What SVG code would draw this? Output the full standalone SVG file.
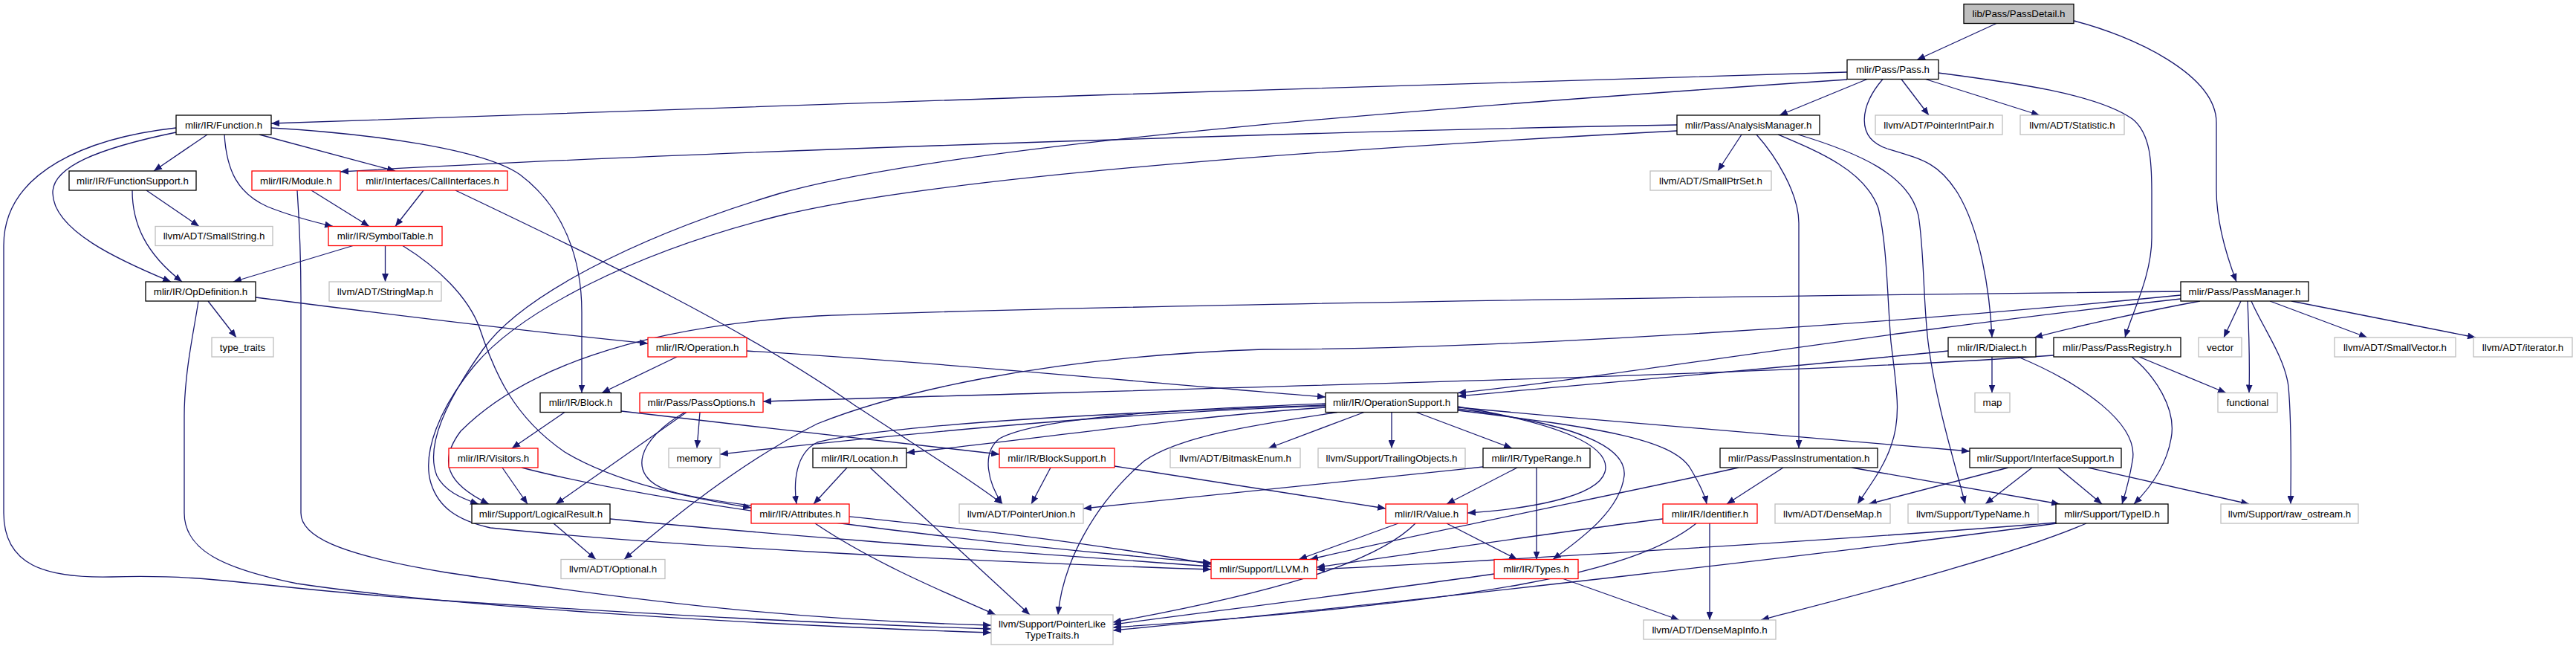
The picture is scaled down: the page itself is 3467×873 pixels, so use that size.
<svg xmlns="http://www.w3.org/2000/svg" width="3467" height="873" viewBox="0 0 3467 873">
<style>
.n rect{fill:#fff;stroke:#000;stroke-width:1.3}
.n.r rect{stroke:#ff0000}
.n.g rect{stroke:#bfbfbf}
.n.root rect{fill:#bfbfbf}
.n text{font-family:"Liberation Sans",Arial,sans-serif;font-size:13.3px;fill:#000;text-anchor:middle}
#edges path{fill:none;stroke:#191970;stroke-width:1.3;marker-end:url(#ah)}
</style>
<defs>
<marker id="ah" markerUnits="userSpaceOnUse" viewBox="0 0 11 9" refX="11" refY="4.5" markerWidth="11" markerHeight="9" orient="auto">
<path d="M0,0L11,4.5L0,9z" fill="#191970"/>
</marker>
</defs>
<rect width="3467" height="873" fill="#fff"/>
<g id="edges">
<path d="M2687,31.5 L2580,80.5"/>
<path d="M2791,28 C2870,48 2983,100 2983,165 L2983,255 C2983,300 2997,345 3010,379"/>
<path d="M2486,97 C1900,110 900,150 365,166"/>
<path d="M2486,107 C2000,140 1300,190 1050,260 C850,320 700,400 650,470 C600,540 572,600 588,640 C598,660 620,670 644,678"/>
<path d="M2513,106.5 L2395,155"/>
<path d="M2534,106.5 C2505,140 2495,185 2540,200 C2590,215 2610,220 2635,260 C2665,310 2678,390 2681,454"/>
<path d="M2559,106.5 L2596,155"/>
<path d="M2590,106 L2745,155"/>
<path d="M2609,98 C2700,110 2820,125 2870,160 C2895,180 2896,220 2896,260 L2896,320 C2896,370 2870,420 2860,454"/>
<path d="M2344,181 L2312,230"/>
<path d="M2364,181 C2390,210 2421,260 2421,300 L2421,603"/>
<path d="M2393,181 C2450,205 2510,230 2528,280 C2540,330 2540,400 2545,460 C2552,520 2560,560 2545,600 C2535,630 2515,655 2500,678"/>
<path d="M2420,181 C2500,205 2570,235 2582,290 C2590,340 2588,400 2595,460 C2605,540 2630,620 2645,678"/>
<path d="M2257,168 C1800,176 900,205 458,231"/>
<path d="M2257,176 C1900,195 1300,230 1050,290 C850,340 700,420 640,490 C590,550 568,610 580,650 C590,682 615,700 660,710 C900,735 1300,755 1630,766"/>
<path d="M237,172 C120,185 5,230 5,330 L5,690 C5,760 60,778 150,776 C300,772 330,790 600,808 C900,828 1100,838 1334,846"/>
<path d="M237,178 C130,200 70,225 71,260 C72,310 160,350 230,379"/>
<path d="M279,181 L207,230"/>
<path d="M302,181 C305,230 320,260 360,278 C390,290 420,298 448,304.5"/>
<path d="M349,181 L532,230"/>
<path d="M365,172 C500,180 650,200 700,235 C760,280 783,350 783,420 L783,528.5"/>
<path d="M178,256 C178,300 195,340 245,379"/>
<path d="M197,256 L268,304.5"/>
<path d="M419,256 L497,304.5"/>
<path d="M400,256 C403,300 405,350 405,400 L405,690 C405,720 450,745 600,770 C900,815 1100,835 1334,841"/>
<path d="M570,256 L532,304.5"/>
<path d="M613,256 C800,345 1000,440 1150,545 C1250,610 1320,655 1349,678"/>
<path d="M475,330.5 L314,379"/>
<path d="M518.5,330.5 L518.5,379"/>
<path d="M542,330.5 C590,360 630,400 645,440 C665,500 690,560 760,608 C830,650 930,670 1011,683"/>
<path d="M280,405 L318,454"/>
<path d="M344,400 C500,420 700,445 872,462"/>
<path d="M267,405 C262,440 248,500 248,560 L248,690 C248,740 300,765 400,785 C600,815 1000,840 1334,851"/>
<path d="M911,480 L810,528.5"/>
<path d="M1005,472 C1300,490 1600,520 1784,534"/>
<path d="M760,554.5 L689,603"/>
<path d="M836,553 C1000,572 1200,595 1345,611"/>
<path d="M924,554.5 L748,678"/>
<path d="M942,554.5 L938,603"/>
<path d="M921,555 C860,590 840,640 900,660 C1000,690 1300,700 1630,759"/>
<path d="M676,629 L710,678"/>
<path d="M702,629 C900,680 1300,730 1630,757"/>
<path d="M745,704 L802,752.5"/>
<path d="M821,698 C1100,725 1400,745 1630,762"/>
<path d="M1097,704 C1180,760 1280,800 1340,827"/>
<path d="M1784,546 C1500,555 1200,585 969,611"/>
<path d="M1784,548 C1600,560 1400,590 1220,609"/>
<path d="M1784,545 C1500,555 1200,570 1100,595 C1070,610 1068,650 1072,678"/>
<path d="M1784,543 C1600,550 1400,560 1345,590 C1320,610 1330,650 1349,678"/>
<path d="M1800,554.5 C1700,570 1590,585 1540,620 C1470,680 1430,760 1424,827"/>
<path d="M1836,554.5 L1707,603"/>
<path d="M1873,554.5 L1873,603"/>
<path d="M1906,554.5 L2035,603"/>
<path d="M1962,547 C2100,570 2170,600 2160,635 C2150,670 2050,685 1975,690"/>
<path d="M1962,550 C2120,570 2190,600 2186,640 C2180,690 2120,730 2090,752.5"/>
<path d="M1962,552 C2150,575 2250,590 2275,630 C2290,655 2295,668 2297,678"/>
<path d="M1962,548 C2200,570 2450,590 2651,607"/>
<path d="M2042,629 L1947,678"/>
<path d="M2068,629 L2068,752.5"/>
<path d="M1996,628 C1800,650 1600,670 1458,684"/>
<path d="M1882,704 L1748,752.5"/>
<path d="M1947,704 L2042,752.5"/>
<path d="M1905,704 C1850,760 1700,800 1498,837"/>
<path d="M1414,629 L1388,678"/>
<path d="M1500,627 C1650,650 1780,670 1865,684"/>
<path d="M1140,629 L1095,678"/>
<path d="M1171,629 L1386,827"/>
<path d="M2238,698 C2100,715 1900,745 1772,763"/>
<path d="M2301,704 L2301,834"/>
<path d="M2283,704 C2200,770 2000,810 1498,844"/>
<path d="M2104,778.5 L2260,834"/>
<path d="M2011,772 C1850,795 1650,820 1498,840"/>
<path d="M2767,703 C2500,725 2000,755 1772,766"/>
<path d="M2768,704 C2500,740 1900,810 1498,848"/>
<path d="M2808,704 C2700,750 2500,800 2370,834"/>
<path d="M2400,629 L2324,678"/>
<path d="M2492,629 L2772,678"/>
<path d="M2340,629 C2200,660 1900,720 1763,752.5"/>
<path d="M2703,629 L2515,678"/>
<path d="M2735,629 L2672,678"/>
<path d="M2770,629 L2829,678"/>
<path d="M2810,629 C2880,645 2950,660 3027,678"/>
<path d="M2681,480 L2681,528.5"/>
<path d="M2716,480 C2800,515 2880,570 2870,620 C2865,650 2860,665 2856,678"/>
<path d="M2622,472 C2400,495 2150,515 1962,533"/>
<path d="M2764,478 C2400,505 1500,525 1027,540"/>
<path d="M2869,480 C2900,505 2930,550 2922,590 C2915,630 2890,660 2872,678"/>
<path d="M2879,480 L2996,528.5"/>
<path d="M2935,392 C2400,398 1500,410 1100,425 C850,440 700,500 620,580 C590,620 600,650 658,678"/>
<path d="M2935,397 C2500,440 2000,470 1700,470 C1400,480 1200,530 1100,570 C1000,620 900,700 840,752.5"/>
<path d="M2935,402 C2500,450 2150,510 1962,528.5"/>
<path d="M2961,405 C2880,420 2790,440 2738,454"/>
<path d="M3016,405 L2993,454"/>
<path d="M3025,405 C3027,450 3028,490 3027,528.5"/>
<path d="M3030,405 C3045,440 3075,480 3080,520 C3085,580 3083,640 3083,678"/>
<path d="M3055,405 L3186,454"/>
<path d="M3084,405 L3332,454"/>
</g>
<g id="passdetail" class="n root"><rect x="2643" y="5.5" width="148" height="26"/><text x="2717" y="23.3">lib/Pass/PassDetail.h</text></g>
<g id="pass" class="n"><rect x="2486" y="80.5" width="123" height="26"/><text x="2547.5" y="98.3">mlir/Pass/Pass.h</text></g>
<g id="function" class="n"><rect x="237" y="155" width="128" height="26"/><text x="301" y="172.8">mlir/IR/Function.h</text></g>
<g id="analysismanager" class="n"><rect x="2257" y="155" width="192" height="26"/><text x="2353" y="172.8">mlir/Pass/AnalysisManager.h</text></g>
<g id="pointerintpair" class="n g"><rect x="2524" y="155" width="171" height="26"/><text x="2609.5" y="172.8">llvm/ADT/PointerIntPair.h</text></g>
<g id="statistic" class="n g"><rect x="2719" y="155" width="140" height="26"/><text x="2789" y="172.8">llvm/ADT/Statistic.h</text></g>
<g id="functionsupport" class="n"><rect x="93" y="230" width="171" height="26"/><text x="178.5" y="247.8">mlir/IR/FunctionSupport.h</text></g>
<g id="module" class="n r"><rect x="339" y="230" width="119" height="26"/><text x="398.5" y="247.8">mlir/IR/Module.h</text></g>
<g id="callinterfaces" class="n r"><rect x="481" y="230" width="202" height="26"/><text x="582" y="247.8">mlir/Interfaces/CallInterfaces.h</text></g>
<g id="smallptrset" class="n g"><rect x="2221" y="230" width="163" height="26"/><text x="2302.5" y="247.8">llvm/ADT/SmallPtrSet.h</text></g>
<g id="smallstring" class="n g"><rect x="209" y="304.5" width="158" height="26"/><text x="288" y="322.3">llvm/ADT/SmallString.h</text></g>
<g id="symboltable" class="n r"><rect x="442" y="304.5" width="153" height="26"/><text x="518.5" y="322.3">mlir/IR/SymbolTable.h</text></g>
<g id="opdefinition" class="n"><rect x="196" y="379" width="148" height="26"/><text x="270" y="396.8">mlir/IR/OpDefinition.h</text></g>
<g id="stringmap" class="n g"><rect x="443" y="379" width="151" height="26"/><text x="518.5" y="396.8">llvm/ADT/StringMap.h</text></g>
<g id="passmanager" class="n"><rect x="2935" y="379" width="172" height="26"/><text x="3021" y="396.8">mlir/Pass/PassManager.h</text></g>
<g id="type_traits" class="n g"><rect x="285" y="454" width="83" height="26"/><text x="326.5" y="471.8">type_traits</text></g>
<g id="operation" class="n r"><rect x="872" y="454" width="133" height="26"/><text x="938.5" y="471.8">mlir/IR/Operation.h</text></g>
<g id="dialect" class="n"><rect x="2622" y="454" width="118" height="26"/><text x="2681" y="471.8">mlir/IR/Dialect.h</text></g>
<g id="passregistry" class="n"><rect x="2764" y="454" width="171" height="26"/><text x="2849.5" y="471.8">mlir/Pass/PassRegistry.h</text></g>
<g id="vector" class="n g"><rect x="2959" y="454" width="58" height="26"/><text x="2988" y="471.8">vector</text></g>
<g id="smallvector" class="n g"><rect x="3142" y="454" width="163" height="26"/><text x="3223.5" y="471.8">llvm/ADT/SmallVector.h</text></g>
<g id="iterator" class="n g"><rect x="3329" y="454" width="133" height="26"/><text x="3395.5" y="471.8">llvm/ADT/iterator.h</text></g>
<g id="block" class="n"><rect x="727" y="528.5" width="109" height="26"/><text x="781.5" y="546.3">mlir/IR/Block.h</text></g>
<g id="passoptions" class="n r"><rect x="861" y="528.5" width="166" height="26"/><text x="944" y="546.3">mlir/Pass/PassOptions.h</text></g>
<g id="operationsupport" class="n"><rect x="1784" y="528.5" width="178" height="26"/><text x="1873" y="546.3">mlir/IR/OperationSupport.h</text></g>
<g id="map" class="n g"><rect x="2658" y="528.5" width="47" height="26"/><text x="2681.5" y="546.3">map</text></g>
<g id="functional" class="n g"><rect x="2985" y="528.5" width="80" height="26"/><text x="3025" y="546.3">functional</text></g>
<g id="visitors" class="n r"><rect x="604" y="603" width="120" height="26"/><text x="664" y="620.8">mlir/IR/Visitors.h</text></g>
<g id="memory" class="n g"><rect x="900" y="603" width="69" height="26"/><text x="934.5" y="620.8">memory</text></g>
<g id="location" class="n"><rect x="1094" y="603" width="126" height="26"/><text x="1157" y="620.8">mlir/IR/Location.h</text></g>
<g id="blocksupport" class="n r"><rect x="1345" y="603" width="155" height="26"/><text x="1422.5" y="620.8">mlir/IR/BlockSupport.h</text></g>
<g id="bitmaskenum" class="n g"><rect x="1575" y="603" width="175" height="26"/><text x="1662.5" y="620.8">llvm/ADT/BitmaskEnum.h</text></g>
<g id="trailingobjects" class="n g"><rect x="1774" y="603" width="198" height="26"/><text x="1873" y="620.8">llvm/Support/TrailingObjects.h</text></g>
<g id="typerange" class="n"><rect x="1996" y="603" width="144" height="26"/><text x="2068" y="620.8">mlir/IR/TypeRange.h</text></g>
<g id="passinstrumentation" class="n"><rect x="2315" y="603" width="212" height="26"/><text x="2421" y="620.8">mlir/Pass/PassInstrumentation.h</text></g>
<g id="interfacesupport" class="n"><rect x="2651" y="603" width="204" height="26"/><text x="2753" y="620.8">mlir/Support/InterfaceSupport.h</text></g>
<g id="logicalresult" class="n"><rect x="635" y="678" width="186" height="26"/><text x="728" y="695.8">mlir/Support/LogicalResult.h</text></g>
<g id="attributes" class="n r"><rect x="1011" y="678" width="132" height="26"/><text x="1077" y="695.8">mlir/IR/Attributes.h</text></g>
<g id="pointerunion" class="n g"><rect x="1291" y="678" width="167" height="26"/><text x="1374.5" y="695.8">llvm/ADT/PointerUnion.h</text></g>
<g id="value" class="n r"><rect x="1865" y="678" width="110" height="26"/><text x="1920" y="695.8">mlir/IR/Value.h</text></g>
<g id="identifier" class="n r"><rect x="2238" y="678" width="127" height="26"/><text x="2301.5" y="695.8">mlir/IR/Identifier.h</text></g>
<g id="densemap" class="n g"><rect x="2389" y="678" width="155" height="26"/><text x="2466.5" y="695.8">llvm/ADT/DenseMap.h</text></g>
<g id="typename" class="n g"><rect x="2568" y="678" width="175" height="26"/><text x="2655.5" y="695.8">llvm/Support/TypeName.h</text></g>
<g id="typeid" class="n"><rect x="2767" y="678" width="151" height="26"/><text x="2842.5" y="695.8">mlir/Support/TypeID.h</text></g>
<g id="raw_ostream" class="n g"><rect x="2989" y="678" width="185" height="26"/><text x="3081.5" y="695.8">llvm/Support/raw_ostream.h</text></g>
<g id="optional" class="n g"><rect x="755" y="752.5" width="140" height="26"/><text x="825" y="770.3">llvm/ADT/Optional.h</text></g>
<g id="llvm" class="n r"><rect x="1630" y="752.5" width="142" height="26"/><text x="1701" y="770.3">mlir/Support/LLVM.h</text></g>
<g id="types" class="n r"><rect x="2011" y="752.5" width="113" height="26"/><text x="2067.5" y="770.3">mlir/IR/Types.h</text></g>
<g id="pointerliketypetraits" class="n g"><rect x="1334" y="827" width="164" height="40"/><text x="1416" y="843.5">llvm/Support/PointerLike</text><text x="1416" y="858.5">TypeTraits.h</text></g>
<g id="densemapinfo" class="n g"><rect x="2212" y="834" width="178" height="26"/><text x="2301" y="851.8">llvm/ADT/DenseMapInfo.h</text></g>
</svg>
